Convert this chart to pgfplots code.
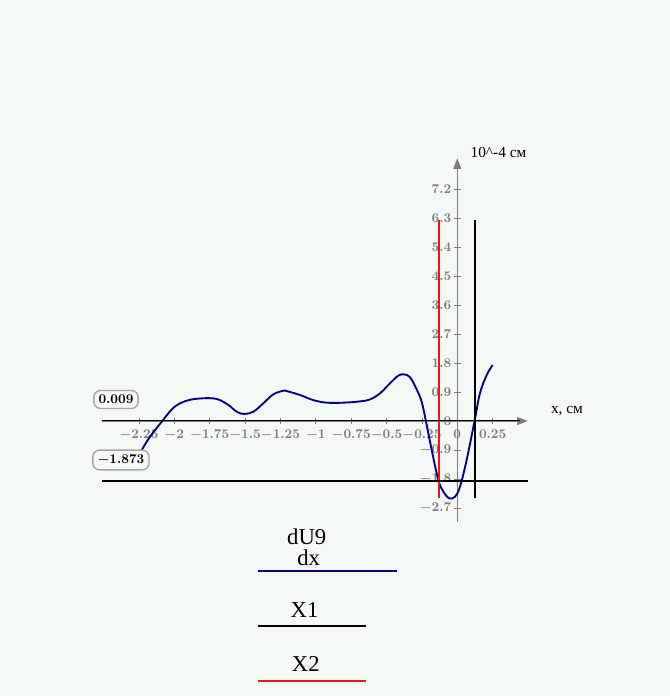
\documentclass[border=0pt]{standalone}
\usepackage{fontspec}
\usepackage{pgfplots}
\pgfplotsset{compat=1.18}
\usetikzlibrary{arrows.meta}
\newfontfamily\serifru{Liberation Serif}
\definecolor{bg}{RGB}{245,249,246}
\definecolor{curve}{RGB}{0,0,140}
\definecolor{axgray}{RGB}{125,125,125}
\definecolor{mkred}{RGB}{240,20,20}
\definecolor{boxgray}{RGB}{165,165,165}
\begin{document}
\begin{tikzpicture}
\begin{scope}[x=0.75pt,y=-0.75pt]
\fill[bg] (0,0) rectangle (670,696);
\end{scope}
\begin{axis}[
  at={(76.275pt,-391.275pt)}, anchor=south west,
  scale only axis, width=319.5pt, height=272.55pt,
  xmin=-2.513, xmax=0.4975, ymin=-3.127, ymax=8.16,
  axis lines=middle,
  x axis line style={axgray, line width=0.8pt, -{Triangle[length=8pt,width=6pt]}},
  y axis line style={axgray, line width=0.8pt, -{Triangle[length=8pt,width=6pt]}},
  tick style={axgray, line width=0.6pt},
  tick align=center, major tick length=5pt,
  hide obscured x ticks=false, hide obscured y ticks=false,
  clip=false,
  xtick={-2.25,-2,-1.75,-1.5,-1.25,-1,-0.75,-0.5,-0.25,0,0.25},
  xticklabels={$-2.25$,$-2$,$-1.75$,$-1.5$,$-1.25$,$-1$,$-0.75$,$-0.5$,$-0.25$,$0$,$0.25$},
  ytick={-2.7,-1.8,-0.9,0,0.9,1.8,2.7,3.6,4.5,5.4,6.3,7.2},
  yticklabels={$-2.7$,$-1.8$,$-0.9$,$0$,$0.9$,$1.8$,$2.7$,$3.6$,$4.5$,$5.4$,$6.3$,$7.2$},
  ticklabel style={font=\fontsize{10}{11}\selectfont\boldmath, text=axgray},
  xticklabel style={yshift=-0.5pt},
  yticklabel style={xshift=1.5pt},
]
\addplot[curve, line width=1.4pt, smooth, tension=0.6] coordinates {
(-2.230,-0.90) (-2.172,-0.49) (-2.085,0) (-2.018,0.36) (-1.960,0.55) (-1.889,0.66)
(-1.818,0.70) (-1.748,0.71) (-1.689,0.67) (-1.618,0.50) (-1.559,0.29) (-1.507,0.22)
(-1.441,0.29) (-1.371,0.55) (-1.300,0.83) (-1.230,0.94) (-1.206,0.93) (-1.112,0.81)
(-1.018,0.65) (-0.923,0.57) (-0.806,0.57) (-0.688,0.61) (-0.617,0.67) (-0.546,0.86)
(-0.476,1.17) (-0.417,1.41) (-0.377,1.45) (-0.334,1.36) (-0.287,0.98) (-0.252,0.60)
(-0.222,0) (-0.181,-0.90) (-0.134,-1.83) (-0.099,-2.19) (-0.057,-2.40) (-0.016,-2.35)
(0.019,-2.04) (0.066,-1.21) (0.122,0) (0.160,0.86) (0.208,1.43) (0.250,1.74)
};
\addplot[black, line width=1.3pt] coordinates {(0.125,-2.4) (0.125,6.24)};
\addplot[mkred, line width=1.3pt] coordinates {(-0.129,-2.4) (-0.129,6.24)};
\addplot[black, line width=1.5pt] coordinates {(-2.513,-1.873) (0.4975,-1.873)};
\addplot[black, line width=0.9pt] coordinates {(-2.513,0.009) (0.44,0.009)};
\node[draw=boxgray, line width=1pt, rounded corners=5pt, fill=bg, inner sep=3.5pt,
      font=\fontsize{10}{11}\selectfont\boldmath] at (axis cs:-2.412,0.668) {$0.009$};
\node[draw=boxgray, line width=1pt, rounded corners=5pt, fill=bg, inner sep=3.5pt,
      font=\fontsize{10}{11}\selectfont\boldmath] at (axis cs:-2.377,-1.21) {$-1.873$};
\node[font=\serifru\fontsize{11.5}{13}\selectfont] at (axis cs:0.775,0.31) {x, см};
\node[font=\serifru\fontsize{11.5}{13}\selectfont] at (axis cs:0.291,8.35) {10\^{}-4 см};
\end{axis}
\begin{scope}[x=0.75pt,y=-0.75pt]
\node[font=\serifru\fontsize{17}{17}\selectfont, inner sep=0pt] at (306.7,537) {dU9};
\node[font=\serifru\fontsize{17}{17}\selectfont, inner sep=0pt] at (308.7,557.5) {dx};
\draw[curve, line width=1.2pt] (258.3,571) -- (396.7,571);
\node[font=\serifru\fontsize{17}{17}\selectfont, inner sep=0pt] at (304.5,610.5) {X1};
\draw[black, line width=1.2pt] (258.3,626) -- (365.7,626);
\node[font=\serifru\fontsize{17}{17}\selectfont, inner sep=0pt] at (305.8,664) {X2};
\draw[mkred, line width=1.2pt] (258.3,681) -- (365.7,681);
\end{scope}
\pgfresetboundingbox
\useasboundingbox (0pt,0pt) rectangle (502.5pt,-522pt);
\end{tikzpicture}
\end{document}
